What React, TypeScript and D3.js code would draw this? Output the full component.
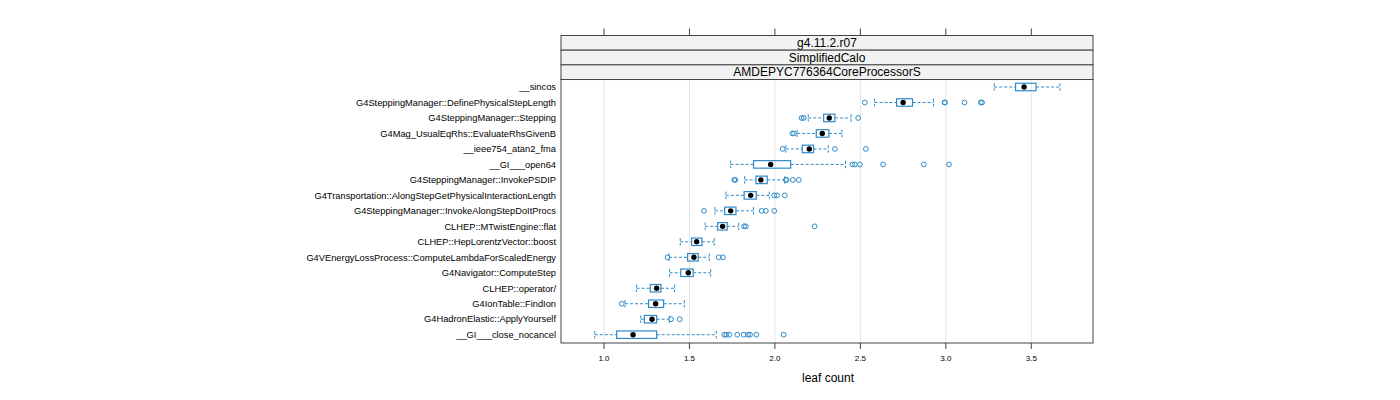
import React from "react";
import * as d3 from "d3";

const categories = [
  "__sincos",
  "G4SteppingManager::DefinePhysicalStepLength",
  "G4SteppingManager::Stepping",
  "G4Mag_UsualEqRhs::EvaluateRhsGivenB",
  "__ieee754_atan2_fma",
  "__GI___open64",
  "G4SteppingManager::InvokePSDIP",
  "G4Transportation::AlongStepGetPhysicalInteractionLength",
  "G4SteppingManager::InvokeAlongStepDoItProcs",
  "CLHEP::MTwistEngine::flat",
  "CLHEP::HepLorentzVector::boost",
  "G4VEnergyLossProcess::ComputeLambdaForScaledEnergy",
  "G4Navigator::ComputeStep",
  "CLHEP::operator/",
  "G4IonTable::FindIon",
  "G4HadronElastic::ApplyYourself",
  "__GI___close_nocancel",
];

// [lower whisker, Q1, median, Q3, upper whisker]
const stats: number[][] = [
  [3.283, 3.408, 3.458, 3.528, 3.668],
  [2.583, 2.712, 2.75, 2.805, 2.928],
  [2.195, 2.285, 2.318, 2.351, 2.446],
  [2.13, 2.242, 2.277, 2.316, 2.392],
  [2.064, 2.16, 2.201, 2.226, 2.312],
  [1.741, 1.875, 1.975, 2.092, 2.413],
  [1.823, 1.889, 1.918, 1.955, 2.058],
  [1.713, 1.82, 1.858, 1.891, 1.967],
  [1.649, 1.706, 1.741, 1.772, 1.875],
  [1.592, 1.665, 1.694, 1.721, 1.788],
  [1.446, 1.513, 1.542, 1.573, 1.645],
  [1.38, 1.489, 1.526, 1.551, 1.616],
  [1.384, 1.449, 1.493, 1.522, 1.624],
  [1.191, 1.271, 1.308, 1.333, 1.413],
  [1.123, 1.261, 1.302, 1.349, 1.47],
  [1.215, 1.236, 1.281, 1.308, 1.382],
  [0.946, 1.074, 1.17, 1.308, 1.657],
];

const outliers: number[][] = [
  [],
  [2.526, 2.992, 2.995, 3.109, 3.205, 3.212],
  [2.156, 2.168, 2.487],
  [2.102, 2.112],
  [2.045, 2.351, 2.532],
  [2.453, 2.468, 2.497, 2.633, 2.871, 3.018],
  [1.762, 1.768, 2.064, 2.068, 2.105, 2.14],
  [1.996, 2.012, 2.058],
  [1.585, 1.922, 1.947, 1.996],
  [1.819, 1.83, 2.232],
  [],
  [1.372, 1.671, 1.696],
  [],
  [],
  [1.104],
  [1.392, 1.443],
  [1.704, 1.715, 1.733, 1.78, 1.817, 1.842, 1.854, 1.891, 2.051],
];

const tickValues = [1.0, 1.5, 2.0, 2.5, 3.0, 3.5];
const stripLabels = ["g4.11.2.r07", "SimplifiedCalo", "AMDEPYC776364CoreProcessorS"];
const xLabel = "leaf count";

export default function App() {
  const W = 1400, H = 400;
  const left = 561, right = 1093;
  const panelTop = 79.5, panelBottom = 343;
  const stripTop = 35.5, stripH = 14.67;
  const x = d3.scaleLinear().domain([1, 3.5]).range([604, 1031.3]);
  const y = d3.scalePoint<string>().domain(categories).range([87, 334.7]);
  const blue = "#2f8ac9";
  const boxH = 7.5;
  const font = "Liberation Sans, Arial, sans-serif";
  const fmt = d3.format(".1f");

  return (
    <svg width={W} height={H} style={{ position: "absolute", left: 0, top: 0 }} fontFamily={font}>
      <rect x={0} y={0} width={W} height={H} fill="#fff" />
      {tickValues.map((t) => (
        <line key={"g" + t} x1={x(t)} x2={x(t)} y1={panelTop} y2={panelBottom} stroke="#e6e6e6" strokeWidth={1} />
      ))}
      {categories.map((c, i) => {
        const [lo, q1, md, q3, hi] = stats[i];
        const cy = y(c)!;
        return (
          <g key={c}>
            <line x1={x(lo)} x2={x(q1)} y1={cy} y2={cy} stroke={blue} strokeDasharray="3,2" strokeWidth={1} />
            <line x1={x(q3)} x2={x(hi)} y1={cy} y2={cy} stroke={blue} strokeDasharray="3,2" strokeWidth={1} />
            <line x1={x(lo)} x2={x(lo)} y1={cy - boxH / 2} y2={cy + boxH / 2} stroke={blue} strokeDasharray="3,2" strokeWidth={1} />
            <line x1={x(hi)} x2={x(hi)} y1={cy - boxH / 2} y2={cy + boxH / 2} stroke={blue} strokeDasharray="3,2" strokeWidth={1} />
            <rect x={x(q1)} y={cy - boxH / 2} width={x(q3) - x(q1)} height={boxH} fill="none" stroke={blue} strokeWidth={1.2} />
            <circle cx={x(md)} cy={cy} r={2.7} fill="#000" />
            {outliers[i].map((o, k) => (
              <circle key={k} cx={x(o)} cy={cy} r={2.4} fill="none" stroke={blue} strokeWidth={1} />
            ))}
            <text x={556} y={cy} dy="0.35em" textAnchor="end" fontSize={9.3} fill="#000">{c}</text>
          </g>
        );
      })}
      <rect x={left} y={panelTop} width={right - left} height={panelBottom - panelTop} fill="none" stroke="#444" strokeWidth={1} />
      {stripLabels.map((s, k) => (
        <g key={s}>
          <rect x={left} y={stripTop + k * stripH} width={right - left} height={stripH} fill="#f2f2f2" stroke="#444" strokeWidth={1} />
          <text x={(left + right) / 2} y={stripTop + k * stripH + stripH / 2} dy="0.36em" textAnchor="middle" fontSize={12} fill="#000">{s}</text>
        </g>
      ))}
      {tickValues.map((t) => (
        <g key={"t" + t}>
          <line x1={x(t)} x2={x(t)} y1={stripTop - 7} y2={stripTop} stroke="#444" />
          <line x1={x(t)} x2={x(t)} y1={panelBottom} y2={panelBottom + 6} stroke="#444" />
          <text x={x(t)} y={358} dy="0.35em" textAnchor="middle" fontSize={8} fill="#000">{fmt(t)}</text>
        </g>
      ))}
      <text x={(left + right) / 2 + 1} y={378} dy="0.35em" textAnchor="middle" fontSize={12} fill="#000">{xLabel}</text>
    </svg>
  );
}
